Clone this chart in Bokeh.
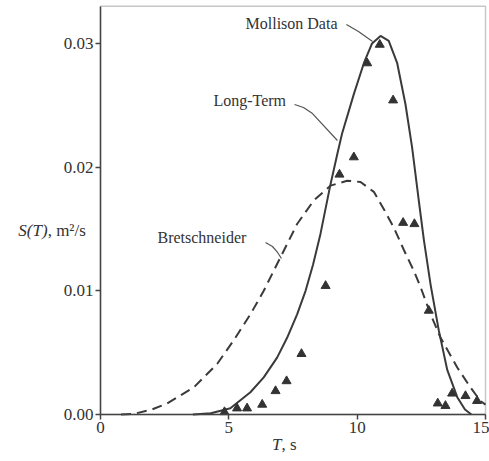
from bokeh.plotting import figure
from bokeh.models import Range1d, FixedTicker, Label, NumeralTickFormatter, BoxAnnotation
from bokeh.embed import file_html
from bokeh.resources import INLINE

# ---- data ----
long_term_T = [3.6, 4.3, 5.06, 5.84, 6.36, 6.88, 7.27, 7.66, 7.99, 8.28, 8.57, 8.96,
               9.22, 9.41, 9.87, 10.26, 10.58, 10.91, 11.23, 11.56, 11.88, 12.14,
               12.4, 12.6, 12.86, 13.18, 13.51, 13.9, 14.2, 14.45]
long_term_S = [0.0, 0.0001, 0.0005, 0.0018, 0.003, 0.0046, 0.0062, 0.0081, 0.0100,
               0.0121, 0.0146, 0.0186, 0.0210, 0.0227, 0.0259, 0.0284, 0.0300, 0.0306,
               0.0302, 0.0284, 0.0251, 0.0216, 0.0173, 0.0141, 0.0105, 0.0068, 0.0036,
               0.0014, 0.0004, 0.0]

bret_T = [0.8, 1.3, 2.0, 2.6, 3.64, 4.55, 5.19, 5.84, 6.36, 7.01, 7.66, 8.31, 8.96,
          9.61, 10.13, 10.65, 11.04, 11.43, 11.82, 12.21, 12.47, 12.86, 13.25, 13.9,
          14.41, 14.8, 15.0]
bret_S = [0.0, 0.00005, 0.0004, 0.0009, 0.0022, 0.0041, 0.0060, 0.0081, 0.0100,
          0.0127, 0.0154, 0.0173, 0.0185, 0.0189, 0.0188, 0.0180, 0.0166, 0.0151,
          0.0133, 0.0116, 0.0103, 0.0081, 0.0062, 0.0038, 0.0022, 0.0011, 0.0008]

mollison_T = [4.83, 5.32, 5.71, 6.30, 6.82, 7.25, 7.83, 8.77, 9.31, 9.87, 10.39,
              10.88, 11.40, 11.79, 12.23, 12.79, 13.14, 13.44, 13.70, 14.22, 14.67]
mollison_S = [0.0002, 0.0005, 0.0005, 0.0008, 0.0019, 0.0027, 0.0049, 0.0104, 0.0194,
              0.0208, 0.0284, 0.0299, 0.0254, 0.0155, 0.0154, 0.0084, 0.0009, 0.0007,
              0.0017, 0.0015, 0.0011]

x_ticks = [0, 5, 10, 15]
y_ticks = [0.0, 0.01, 0.02, 0.03]
x_max = 15
y_max = 0.033

# ---- figure: frame spans the whole canvas, axes fixed at the data origin ----
FONT = "Liberation Serif"
INK = "#333333"
W, H = 489, 456
PX_PER_T = 25.667       # screen px per second
PX_PER_S = 12370.0      # screen px per m^2/s
X0_PX, Y0_PX = 100, 414  # screen position of the origin

p = figure(width=W, height=H,
           x_range=Range1d(-X0_PX / PX_PER_T, (W - X0_PX) / PX_PER_T),
           y_range=Range1d((Y0_PX - H) / PX_PER_S, Y0_PX / PX_PER_S),
           output_backend="svg", toolbar_location=None,
           min_border_left=0, min_border_right=0,
           min_border_top=0, min_border_bottom=0)
p.background_fill_color = "white"
p.border_fill_color = "white"
p.outline_line_color = None
p.xgrid.visible = False
p.ygrid.visible = False

p.xaxis.fixed_location = 0
p.yaxis.fixed_location = 0
p.xaxis.bounds = (0, x_max)
p.yaxis.bounds = (0, y_max)
p.xaxis.ticker = FixedTicker(ticks=x_ticks)
p.yaxis.ticker = FixedTicker(ticks=y_ticks)
p.yaxis.formatter = NumeralTickFormatter(format="0.00")
for ax in (p.xaxis, p.yaxis):
    ax.minor_tick_line_color = None
    ax.major_tick_out = 5
    ax.major_tick_in = 0
    ax.major_tick_line_color = "#444444"
    ax.major_tick_line_width = 1.5
    ax.axis_line_color = "#444444"
    ax.axis_line_width = 1.5
    ax.major_label_text_font = FONT
    ax.major_label_text_font_size = "17px"
    ax.major_label_text_color = INK
    ax.major_label_standoff = 2

# plot box (top and right edges)
p.add_layout(BoxAnnotation(left=0, right=x_max, bottom=0, top=y_max,
                           fill_color=None, line_color="#444444", line_width=1.5))

# curves and data
p.line(long_term_T, long_term_S, line_color="#3a3a3a", line_width=2)
p.line(bret_T, bret_S, line_color="#3a3a3a", line_width=2, line_dash="10 6")
p.scatter(mollison_T, mollison_S, marker="triangle", size=9,
          fill_color=INK, line_color=INK)

# leader lines
p.line([9.58, 10.05, 10.60], [0.03153, 0.03096, 0.03015], line_color="#555555", line_width=1.2)
p.line([7.56, 7.91, 8.26, 9.23], [0.02506, 0.02482, 0.02433, 0.02215], line_color="#555555", line_width=1.2)
p.line([6.43, 6.70, 6.90, 7.05], [0.0139, 0.01358, 0.0131, 0.01261], line_color="#555555", line_width=1.2)

def lab(x, y, text, align="left", style="normal", size="16px"):
    p.add_layout(Label(x=x, y=y, text=text, text_align=align, text_baseline="middle",
                       text_font=FONT, text_font_size=size, text_color=INK,
                       text_font_style=style))

lab(5.65, 0.0316, "Mollison Data")
lab(4.40, 0.02538, "Long-Term")
lab(2.22, 0.01431, "Bretschneider")
lab(-2.06, 0.01487, "S(T)", align="right", style="italic", size="17px")
lab(-2.06, 0.01487, ", m²/s", size="17px")
lab(7.05, -0.00243, "T", align="right", style="italic", size="17px")
lab(7.05, -0.00243, ", s", size="17px")

open("out.html", "w").write(file_html(p, INLINE))
